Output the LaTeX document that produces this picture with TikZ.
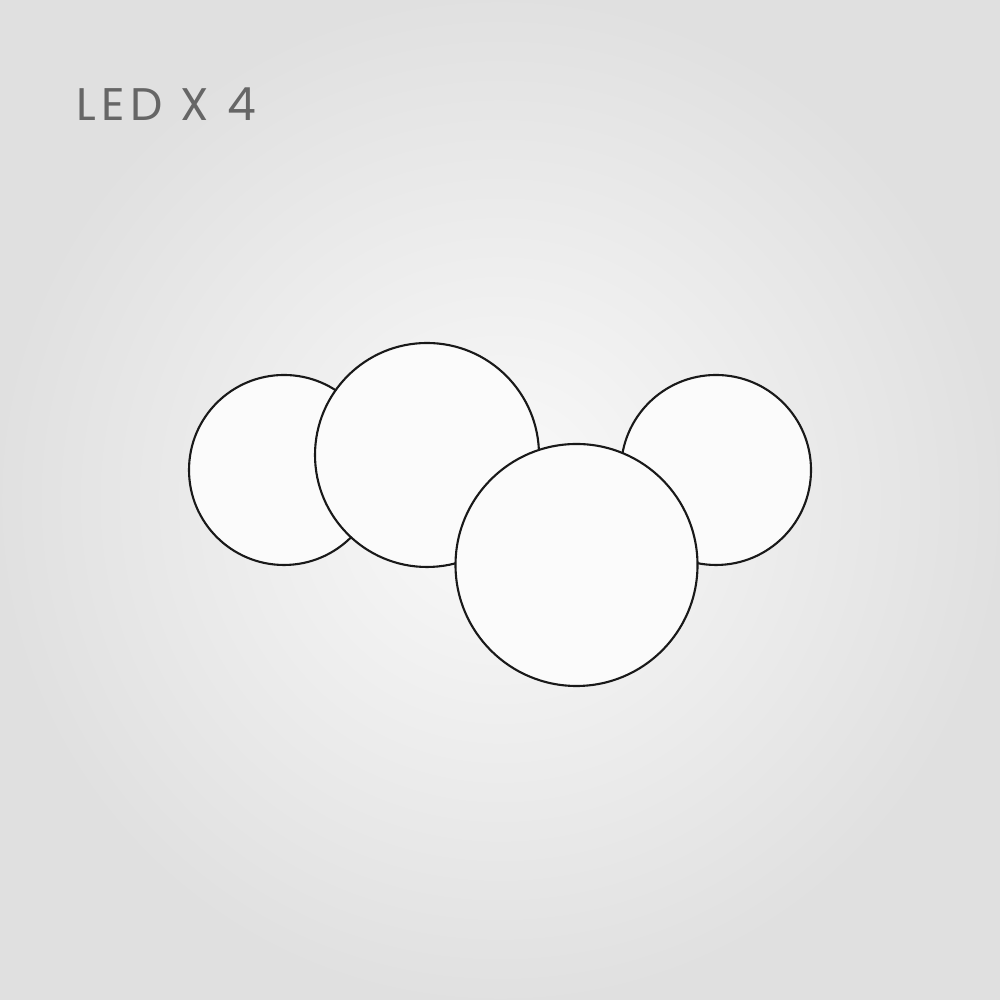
\documentclass[tikz,border=0pt]{standalone}
\usepackage{fontspec}
\setmainfont{Poppins}
\begin{document}
\begin{tikzpicture}[
  disc/.style={circle, draw=black!90, line width=0.6pt, fill=white!97!gray, inner sep=0pt},
  label/.style={anchor=base west, inner sep=0pt, text=black!60, font=\fontsize{13}{16}\selectfont}
]
\useasboundingbox (0,0) rectangle (10,10);
\shade[inner color=white!96!gray, outer color=black!12] (0,0) rectangle (10,10);
\node[label] (title) at (0.76,8.79) {L\kern1.5ptE\kern1.5ptD\hspace{0.4em}X\hspace{0.4em}4};
\node[disc, minimum size=1.90cm] (c1) at (2.84,5.30) {};
\node[disc, minimum size=1.90cm] (c3) at (7.16,5.30) {};
\node[disc, minimum size=2.24cm] (c2) at (4.27,5.45) {};
\node[disc, minimum size=2.42cm] (c4) at (5.765,4.35) {};
\end{tikzpicture}
\end{document}
